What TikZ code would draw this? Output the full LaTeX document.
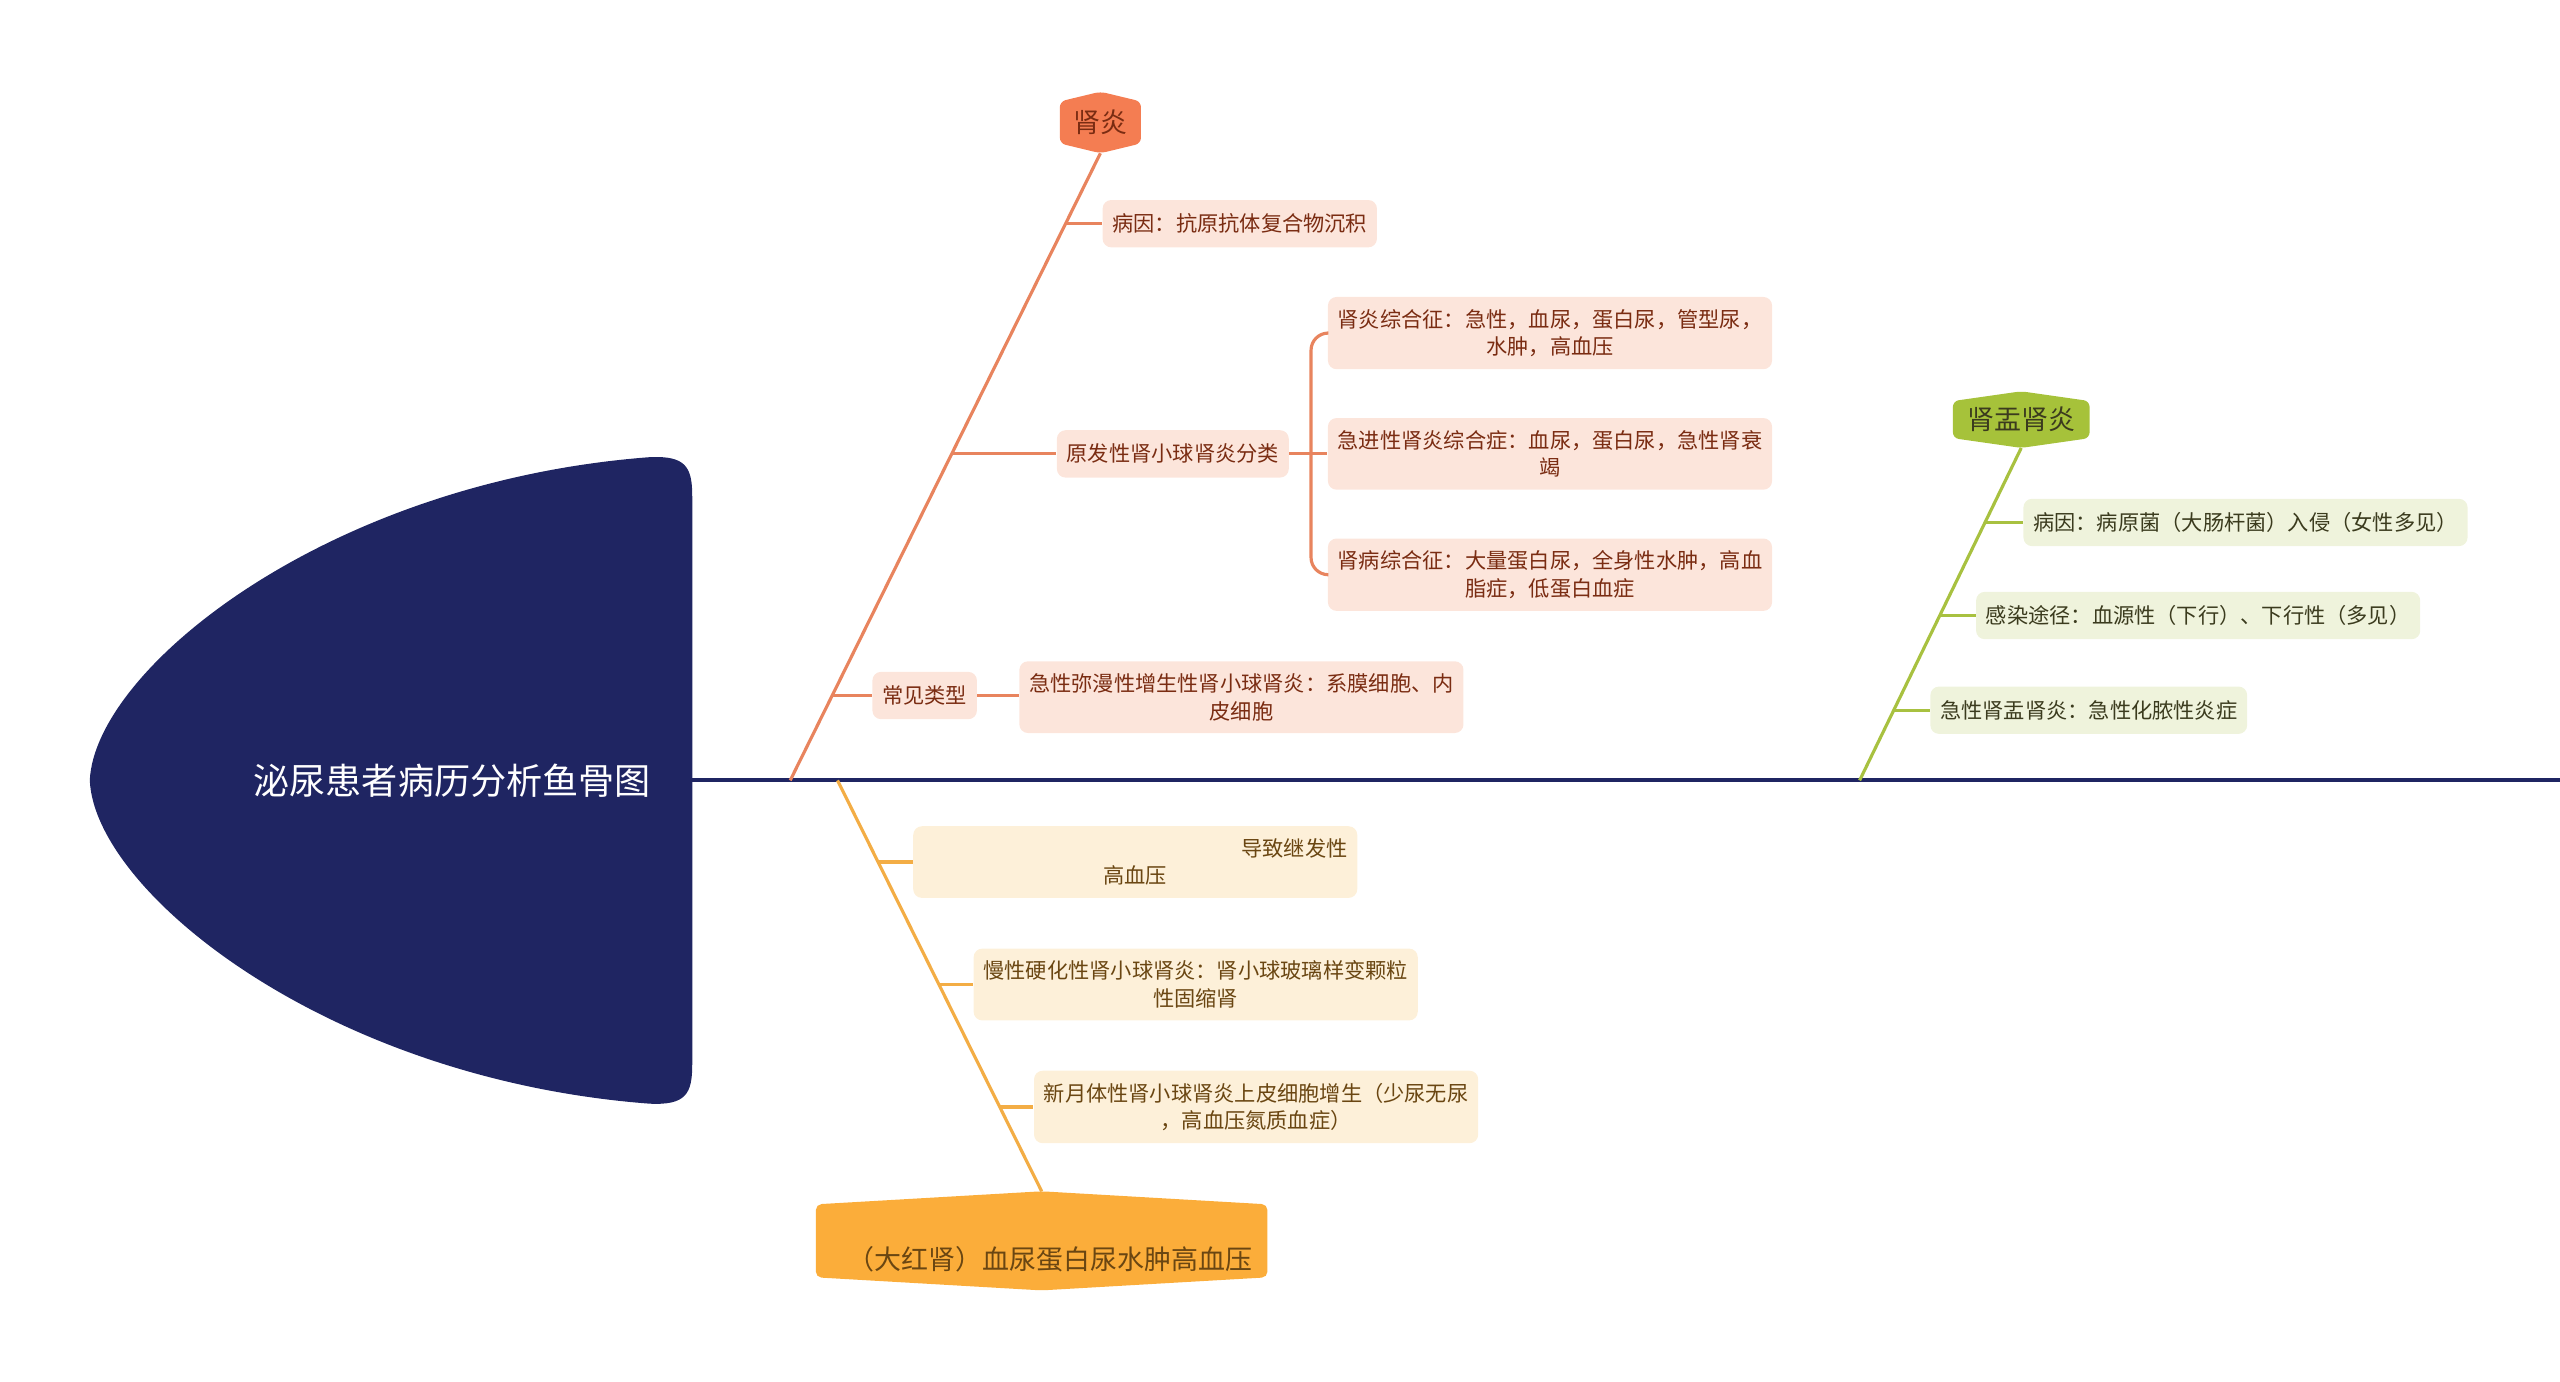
\documentclass[tikz,border=0pt]{standalone}
\usepackage{fontspec}
\setmainfont{Noto Sans CJK SC}
\usetikzlibrary{positioning,backgrounds}
\definecolor{navy}{HTML}{1F2562}
\definecolor{redbone}{HTML}{E8845E}
\definecolor{redhex}{HTML}{F47D52}
\definecolor{redfill}{HTML}{FCE5DB}
\definecolor{redtext}{HTML}{7A2C12}
\definecolor{ambbone}{HTML}{F3AD45}
\definecolor{ambhex}{HTML}{FBAD3A}
\definecolor{ambfill}{HTML}{FDF0D9}
\definecolor{ambtext}{HTML}{6A4612}
\definecolor{grnbone}{HTML}{A8C140}
\definecolor{grnhex}{HTML}{A6C23A}
\definecolor{grnfill}{HTML}{EFF3DC}
\definecolor{grntext}{HTML}{3B3B1E}
% hexagon behind a named node: node, colour, drop of the corners
\newcommand\hexfill[3]{\fill[#2,rounded corners=2pt] ([yshift=-#3]#1.north west) -- (#1.north) -- ([yshift=-#3]#1.north east) -- ([yshift=#3]#1.south east) -- (#1.south) -- ([yshift=#3]#1.south west) -- cycle;}

\begin{document}
\begin{tikzpicture}[x=0.02cm,y=-0.02cm,
  every node/.style={font=\fontsize{7.4}{9.6}\selectfont},
  box/.style={rounded corners=3pt,inner xsep=0.12cm,inner ysep=0.15cm,minimum height=0.58cm,align=center,anchor=west},
  upperbox/.style={box,fill=redfill,text=redtext},
  lowerbox/.style={box,fill=ambfill,text=ambtext},
  rightbox/.style={box,fill=grnfill,text=grntext},
  hexnode/.style={inner sep=0pt,font=\fontsize{9.4}{11}\selectfont},
  upbone/.style={redbone,line width=1.1pt},
  lowbone/.style={ambbone,line width=1.1pt},
  rightbone/.style={grnbone,line width=1.1pt}]
\useasboundingbox (0,0) rectangle (1568,846);
% head
\fill[navy] (398,280) .. controls (200,295) and (58,410) .. (55,478)
  .. controls (58,546) and (200,661) .. (398,676)
  .. controls (420,677) and (424,670) .. (424,652) -- (424,304)
  .. controls (424,286) and (420,279) .. (398,280) -- cycle;
\node[font=\fontsize{12.6}{15}\selectfont,text=white] (title) at (277,478) {泌尿患者病历分析鱼骨图};
\coordinate (head) at (424,478);
\coordinate (tail) at (1568,478);
\draw[navy,line width=1.4pt] (head) -- (tail);

% upper bone
\node[hexnode,minimum width=0.98cm,minimum height=0.74cm,text=redtext] (nephritis) at (674,75) {肾炎};
\coordinate (b1) at (484,478);
\draw[upbone] (b1) -- (nephritis.south);
\node[upperbox] (cause) at (675,137) {病因：抗原抗体复合物沉积};
\node[upperbox] (primary) at (647,278) {原发性肾小球肾炎分类};
\node[upperbox] (synA) at (813,204) {肾炎综合征：急性，血尿，蛋白尿，管型尿，\\水肿，高血压};
\node[upperbox] (synB) at (813,278) {急进性肾炎综合症：血尿，蛋白尿，急性肾衰\\竭};
\node[upperbox] (synC) at (813,352) {肾病综合征：大量蛋白尿，全身性水肿，高血\\脂症，低蛋白血症};
\node[upperbox] (common) at (534,426) {常见类型};
\node[upperbox] (diffuse) at (624,427) {急性弥漫性增生性肾小球肾炎：系膜细胞、内\\皮细胞};
\coordinate (j1) at (652,137);
\coordinate (j2) at (583,278);
\coordinate (j3) at (510,426);
\draw[upbone] (j1) -- (cause.west);
\draw[upbone] (j2) -- (primary.west);
\draw[upbone] (j3) -- (common.west);
\draw[upbone] (primary.east) -- (synB.west);
\draw[upbone,rounded corners=6pt] (synA.west) -- ++(-10,0) |- (synC.west);
\draw[upbone] (common.east) -- (diffuse.west |- common.east);

% lower bone
\node[hexnode,minimum width=5.52cm,minimum height=1.2cm] (bigred) at (638,760) {};
\node[hexnode,text=ambtext] (bigredtext) at (643,771) {（大红肾）血尿蛋白尿水肿高血压};
\coordinate (b2) at (513,478);
\draw[lowbone] (b2) -- (bigred.north);
\node[lowerbox] (secondary) at (559,528) {\hspace*{3.9cm}导致继发性\\高血压};
\node[lowerbox] (chronic) at (596,603) {慢性硬化性肾小球肾炎：肾小球玻璃样变颗粒\\性固缩肾};
\node[lowerbox] (crescent) at (633,678) {新月体性肾小球肾炎上皮细胞增生（少尿无尿\\，高血压氮质血症）};
\coordinate (k1) at (538,528);
\coordinate (k2) at (575,603);
\coordinate (k3) at (612,678);
\draw[lowbone] (k1) -- (secondary.west);
\draw[lowbone] (k2) -- (chronic.west);
\draw[lowbone] (k3) -- (crescent.west);

% right bone
\node[hexnode,minimum width=1.66cm,minimum height=0.68cm,text=grntext] (pyelo) at (1238,257) {肾盂肾炎};
\coordinate (b3) at (1139,478);
\draw[rightbone] (b3) -- (pyelo.south);
\node[rightbox] (germ) at (1239,320) {病因：病原菌（大肠杆菌）入侵（女性多见）};
\node[rightbox] (route) at (1210,377) {感染途径：血源性（下行）、下行性（多见）};
\node[rightbox] (acute) at (1182,435) {急性肾盂肾炎：急性化脓性炎症};
\coordinate (m1) at (1216,320);
\coordinate (m2) at (1188,377);
\coordinate (m3) at (1160,435);
\draw[rightbone] (m1) -- (germ.west);
\draw[rightbone] (m2) -- (route.west);
\draw[rightbone] (m3) -- (acute.west);

\begin{scope}[on background layer]
\hexfill{nephritis}{redhex}{0.12cm}
\hexfill{bigred}{ambhex}{0.16cm}
\hexfill{pyelo}{grnhex}{0.12cm}
\end{scope}
\end{tikzpicture}
\end{document}
